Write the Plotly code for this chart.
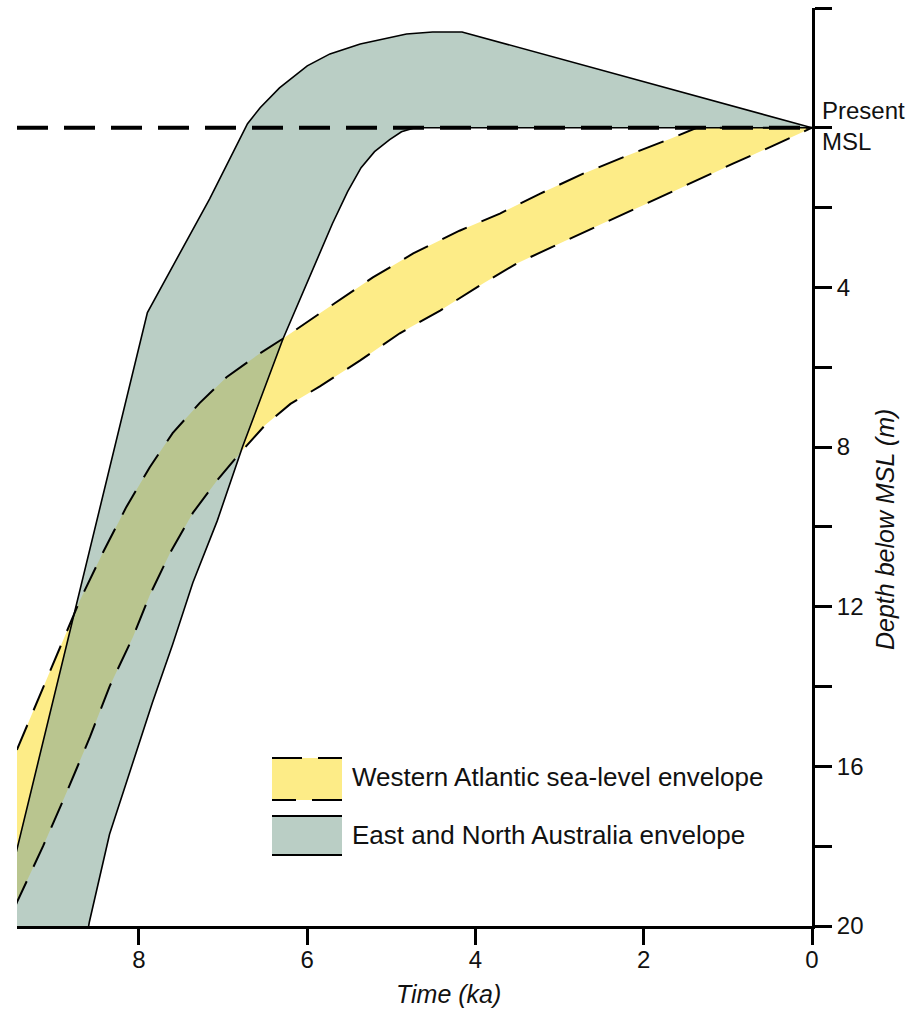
import plotly.graph_objects as go

# ---------------- data (time in ka, depth below MSL in m) ----------------
# East and North Australia envelope
GREY_UPPER_X = [9.73, 8.35, 7.90, 7.16, 6.71, 6.56, 6.33, 6.00, 5.73, 5.37, 4.82, 4.51, 4.16, 0.0]
GREY_UPPER_Y = [20.5, 8.5, 4.63, 1.78, -0.1, -0.5, -1.0, -1.55, -1.85, -2.1, -2.35, -2.4, -2.4, 0.0]
GREY_LOWER_X = [8.64, 8.59, 8.35, 8.07, 7.84, 7.60, 7.36, 7.07, 6.77, 6.29, 5.95, 5.70, 5.52, 5.36, 5.20, 5.02, 4.88, 4.72, 0.0]
GREY_LOWER_Y = [20.5, 19.9, 17.7, 15.9, 14.4, 12.95, 11.4, 9.85, 8.0, 5.3, 3.65, 2.4, 1.6, 1.0, 0.6, 0.3, 0.1, 0.0, 0.0]

# Western Atlantic sea-level envelope
WA_UPPER_X = [9.65, 9.45, 8.70, 8.43, 8.15, 7.87, 7.60, 7.28, 6.96, 6.56, 6.30, 5.85, 5.22, 4.74, 4.19,
              3.71, 3.23, 2.72, 2.20, 1.69, 1.37, 0.0]
WA_UPPER_Y = [16.58, 15.58, 11.83, 10.65, 9.5, 8.5, 7.65, 6.9, 6.25, 5.65, 5.3, 4.65, 3.75, 3.15, 2.58,
              2.15, 1.65, 1.15, 0.7, 0.28, 0.0, 0.0]
WA_LOWER_X = [9.65, 9.45, 9.14, 8.86, 8.58, 8.35, 8.07, 7.87, 7.63, 7.36, 7.07, 6.77, 6.50, 6.20, 5.85, 5.37,
              4.90, 4.42, 3.91, 3.51, 3.00, 2.49, 1.96, 1.45, 0.94, 0.46, 0.0]
WA_LOWER_Y = [20.5, 19.4, 18.0, 16.65, 15.25, 14.0, 12.75, 11.7, 10.65, 9.65, 8.83, 8.08, 7.45, 6.92, 6.48, 5.83,
              5.15, 4.58, 3.9, 3.4, 2.9, 2.4, 1.9, 1.4, 0.9, 0.45, 0.0]

X_TICKS = [8, 6, 4, 2, 0]
Y_TICKS = [-3, 0, 2, 4, 6, 8, 10, 12, 14, 16, 18, 20]
Y_TICKTEXT = ["", "", "", "4", "", "8", "", "12", "", "16", "", "20"]

LEGEND_LABELS = ["Western Atlantic sea-level envelope", "East and North Australia envelope"]

# ---------------- styles ----------------
YELLOW = "rgb(253,236,135)"
GREY = "rgba(130,166,150,0.55)"
FONT = "Arial, Liberation Sans, sans-serif"
WA_DASH = "27px,16px"
MSL_DASH = "31px,16px"

fig = go.Figure()

# fills
fig.add_trace(go.Scatter(
    x=WA_UPPER_X + WA_LOWER_X[::-1], y=WA_UPPER_Y + WA_LOWER_Y[::-1],
    fill="toself", fillcolor=YELLOW, mode="lines", line=dict(width=0),
    hoverinfo="skip", showlegend=False))
fig.add_trace(go.Scatter(
    x=GREY_UPPER_X + GREY_LOWER_X[::-1], y=GREY_UPPER_Y + GREY_LOWER_Y[::-1],
    fill="toself", fillcolor=GREY, mode="lines", line=dict(width=0),
    hoverinfo="skip", showlegend=False))

# outlines
for xs, ys in [(GREY_UPPER_X, GREY_UPPER_Y), (GREY_LOWER_X, GREY_LOWER_Y)]:
    fig.add_trace(go.Scatter(x=xs, y=ys, mode="lines",
                             line=dict(color="black", width=1.6),
                             hoverinfo="skip", showlegend=False))
for xs, ys in [(WA_UPPER_X, WA_UPPER_Y), (WA_LOWER_X, WA_LOWER_Y)]:
    fig.add_trace(go.Scatter(x=xs, y=ys, mode="lines",
                             line=dict(color="black", width=2, dash=WA_DASH),
                             hoverinfo="skip", showlegend=False))

# Present MSL dashed line
fig.add_shape(type="line", xref="paper", yref="y", x0=0, x1=1, y0=0, y1=0,
              line=dict(color="black", width=4, dash=MSL_DASH))

# ---------------- manual legend ----------------
def px_x(px):
    return (px - 17) / 795.0

def px_y(py):
    return (926 - py) / 918.0

# yellow swatch
fig.add_shape(type="rect", xref="paper", yref="paper",
              x0=px_x(272), x1=px_x(342), y0=px_y(800), y1=px_y(758),
              fillcolor=YELLOW, line=dict(width=0))
fig.add_shape(type="line", xref="paper", yref="paper",
              x0=px_x(272), x1=px_x(342), y0=px_y(758), y1=px_y(758),
              line=dict(color="black", width=2, dash="30px,16px"))
fig.add_shape(type="line", xref="paper", yref="paper",
              x0=px_x(342), x1=px_x(272), y0=px_y(800), y1=px_y(800),
              line=dict(color="black", width=2, dash="30px,16px"))
# grey swatch
fig.add_shape(type="rect", xref="paper", yref="paper",
              x0=px_x(272), x1=px_x(342), y0=px_y(855), y1=px_y(816),
              fillcolor=GREY, line=dict(width=0))
fig.add_shape(type="line", xref="paper", yref="paper",
              x0=px_x(272), x1=px_x(342), y0=px_y(816), y1=px_y(816),
              line=dict(color="black", width=2))
fig.add_shape(type="line", xref="paper", yref="paper",
              x0=px_x(272), x1=px_x(342), y0=px_y(855), y1=px_y(855),
              line=dict(color="black", width=2))

for label, py in zip(LEGEND_LABELS, [777, 835]):
    fig.add_annotation(text=label, xref="paper", yref="paper",
                       x=px_x(350), y=px_y(py), xanchor="left", yanchor="middle",
                       showarrow=False, font=dict(family=FONT, size=26, color="#111"))

# Present MSL label
fig.add_annotation(text="Present<br>MSL", xref="paper", yref="y",
                   x=px_x(820), y=-0.05, xanchor="left", yanchor="middle", align="left",
                   showarrow=False, font=dict(family=FONT, size=24, color="#111"))

# axis titles
fig.add_annotation(text="<i>Time (ka)</i>", xref="paper", yref="paper",
                   x=px_x(448), y=px_y(994), xanchor="center", yanchor="middle",
                   showarrow=False, font=dict(family=FONT, size=25, color="#111"))
fig.add_annotation(text="<i>Depth below MSL (m)</i>", xref="paper", yref="paper",
                   x=px_x(885), y=px_y(530), xanchor="center", yanchor="middle",
                   textangle=-90, showarrow=False,
                   font=dict(family=FONT, size=25, color="#111"))

fig.update_layout(
    width=908, height=1015,
    margin=dict(l=17, r=96, t=8, b=89),
    paper_bgcolor="white", plot_bgcolor="white",
    showlegend=False,
    font=dict(family=FONT, size=24, color="#111"),
    xaxis=dict(range=[9.45, 0], tickvals=X_TICKS, ticks="outside", ticklen=16,
               tickwidth=3, tickcolor="black", showline=True, linecolor="black",
               linewidth=3, showgrid=False, zeroline=False, ticklabelstandoff=-6,
               tickfont=dict(family=FONT, size=24, color="#111")),
    yaxis=dict(range=[20, -3], side="right", tickvals=Y_TICKS, ticktext=Y_TICKTEXT,
               ticks="outside", ticklen=17, tickwidth=3, tickcolor="black",
               showline=True, linecolor="black", linewidth=3, showgrid=False,
               zeroline=False, tickfont=dict(family=FONT, size=24, color="#111")),
)

fig.write_html("out.html")
